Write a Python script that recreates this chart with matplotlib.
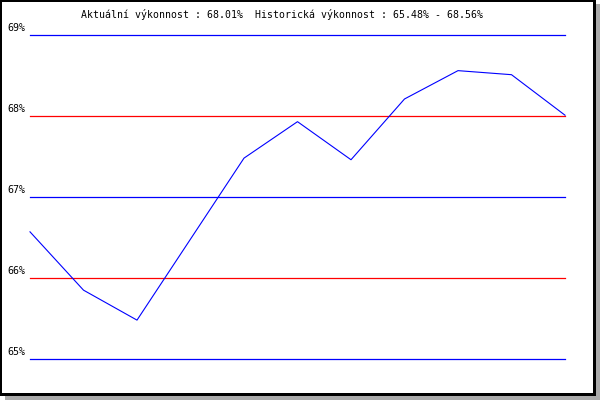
import matplotlib
matplotlib.use("Agg")
import matplotlib.pyplot as plt
from matplotlib.patches import Rectangle

# data
values = [66.57, 65.85, 65.48, 66.48, 67.48, 67.93, 67.46, 68.21, 68.56, 68.51, 68.01]
grid_levels = [65, 66, 67, 68, 69]
grid_labels = ["65%", "66%", "67%", "68%", "69%"]
grid_colors = ["#0000ff", "#ff0000", "#0000ff", "#ff0000", "#0000ff"]
title = "Aktuální výkonnost : 68.01%  Historická výkonnost : 65.48% - 68.56%"

W, H = 600, 400
fig = plt.figure(figsize=(6, 4), dpi=100)
fig.patch.set_facecolor("white")


def px_rect(x0, y0, x1, y1, color):
	# rectangle given in pixel coords with origin top-left
	return Rectangle((x0 / W, 1 - y1 / H), (x1 - x0) / W, (y1 - y0) / H,
					 transform=fig.transFigure, facecolor=color, edgecolor="none",
					 zorder=-10)

# frame with drop shadow
fig.patches.append(px_rect(5, 4, 600, 400, "#aaaaaa"))
fig.patches.append(px_rect(0, 0, 596, 396, "black"))
fig.patches.append(px_rect(2, 2, 593, 393, "white"))

# plot area: x 30..565, y 35 (69%) .. 359 (65%)
ax = fig.add_axes([30 / W, 1 - 359 / H, 535 / W, 324 / H])
ax.set_xlim(0, len(values) - 1)
ax.set_ylim(65, 69)
ax.axis("off")

for lvl, lab, col in zip(grid_levels, grid_labels, grid_colors):
	ax.axhline(lvl, color=col, lw=0.9, clip_on=False)
	ax.annotate(lab, xy=(0, lvl), xycoords=("axes fraction", "data"),
				xytext=(-3, 1.5), textcoords="offset points",
				ha="right", va="bottom", fontsize=7.2, family="DejaVu Sans Mono")

ax.plot(range(len(values)), values, color="#0000ff", lw=0.8, clip_on=False)

fig.text(282 / W, 1 - 14 / H, title, ha="center", va="center",
		 fontsize=7.1, family="DejaVu Sans Mono")

fig.savefig("out.png", dpi=100)
